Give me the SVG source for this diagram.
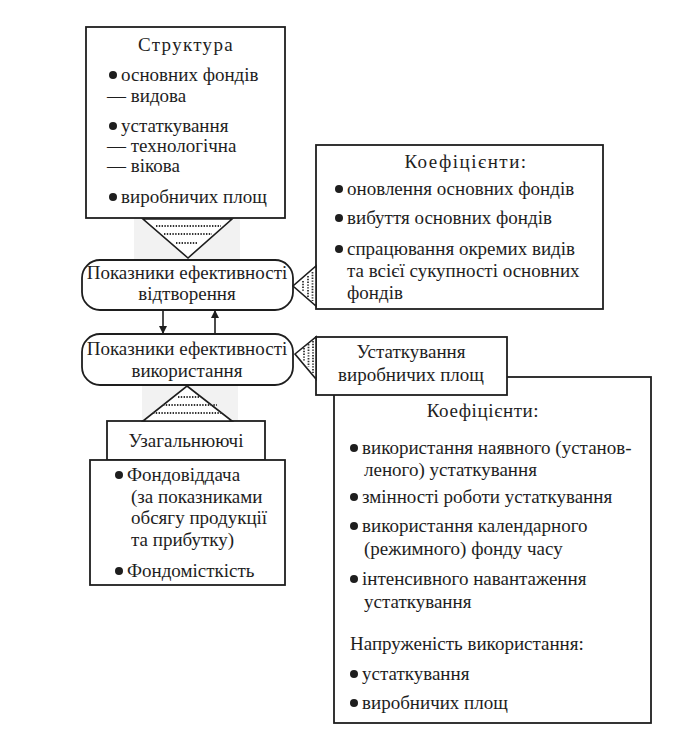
<svg xmlns="http://www.w3.org/2000/svg" width="674" height="735" viewBox="0 0 674 735">
<defs>
<style>
.box{fill:#fff;stroke:#1e1e1e;stroke-width:1.8}
.tri{fill:#fff;stroke:#1e1e1e;stroke-width:1.6;stroke-linejoin:miter}
.dot{stroke:#333;stroke-width:1.8;stroke-dasharray:1.4 1.4;fill:none}
.t{font-family:"Liberation Serif","DejaVu Serif",serif;font-size:19px;fill:#1e1e1e}
.m{text-anchor:middle}
.b{fill:#1e1e1e}
.con{stroke:#1e1e1e;stroke-width:1.6;fill:none}
.smudge{fill:#ececec}
</style>
<marker id="ah" markerWidth="8" markerHeight="10" refX="7" refY="5" orient="auto" markerUnits="userSpaceOnUse">
<path d="M0,1 L8,5 L0,9 Z" fill="#1e1e1e"/>
</marker>
</defs>
<rect width="674" height="735" fill="#fff"/>
<rect class="smudge" x="134" y="219" width="106" height="40" opacity="0.7"/>
<rect class="smudge" x="142" y="386" width="96" height="34" opacity="0.7"/>

<g id="structure">
<rect class="box" x="86" y="27" width="199" height="191"/>
<text class="t m" x="186" y="51" letter-spacing="1.3">Структура</text>
<circle class="b" cx="113" cy="75" r="4"/>
<text class="t" x="121" y="81">основних фондів</text>
<text class="t" x="107" y="102">— видова</text>
<circle class="b" cx="113" cy="126" r="4"/>
<text class="t" x="121" y="132">устаткування</text>
<text class="t" x="107" y="152">— технологічна</text>
<text class="t" x="107" y="172">— вікова</text>
<circle class="b" cx="113" cy="197" r="4"/>
<text class="t" x="121" y="203">виробничих площ</text>
</g>

<g id="coef-top">
<rect class="box" x="316" y="145" width="287" height="164"/>
<text class="t m" x="466" y="168" letter-spacing="1.5">Коефіцієнти:</text>
<circle class="b" cx="339" cy="189" r="4"/>
<text class="t" x="347" y="195">оновлення основних фондів</text>
<circle class="b" cx="339" cy="218" r="4"/>
<text class="t" x="347" y="224">вибуття основних фондів</text>
<circle class="b" cx="339" cy="249" r="4"/>
<text class="t" x="347" y="255">спрацювання окремих видів</text>
<text class="t" x="347" y="277">та всієї сукупності основних</text>
<text class="t" x="347" y="299">фондів</text>
</g>

<g id="reproduction">
<rect class="box" x="82" y="260" width="211" height="50" rx="18"/>
<text class="t m" x="187" y="279">Показники ефективності</text>
<text class="t m" x="187" y="300">відтворення</text>
</g>

<g id="usage">
<rect class="box" x="82" y="334" width="211" height="51" rx="18"/>
<text class="t m" x="187" y="355">Показники ефективності</text>
<text class="t m" x="187" y="377">використання</text>
</g>

<g id="coef-bottom">
<rect class="box" x="334" y="377" width="317" height="346"/>
<text class="t m" x="483" y="417" letter-spacing="0.6">Коефіцієнти:</text>
<circle class="b" cx="354" cy="448" r="4"/>
<text class="t" x="362" y="454">використання наявного (установ-</text>
<text class="t" x="364" y="476">леного) устаткування</text>
<circle class="b" cx="354" cy="497" r="4"/>
<text class="t" x="362" y="503">змінності роботи устаткування</text>
<circle class="b" cx="354" cy="526" r="4"/>
<text class="t" x="362" y="532">використання календарного</text>
<text class="t" x="364" y="555">(режимного) фонду часу</text>
<circle class="b" cx="354" cy="579" r="4"/>
<text class="t" x="362" y="585">інтенсивного навантаження</text>
<text class="t" x="364" y="608">устаткування</text>
<text class="t" x="350" y="650">Напруженість використання:</text>
<circle class="b" cx="354" cy="674" r="4"/>
<text class="t" x="362" y="680">устаткування</text>
<circle class="b" cx="354" cy="703" r="4"/>
<text class="t" x="362" y="709">виробничих площ</text>
</g>

<g id="equipment">
<rect class="box" x="316" y="337" width="191" height="58"/>
<text class="t m" x="411" y="358">Устаткування</text>
<text class="t m" x="411" y="381">виробничих площ</text>
</g>

<g id="general">
<rect class="box" x="107" y="421" width="158" height="39"/>
<text class="t m" x="186" y="447">Узагальнюючі</text>
</g>

<g id="general-list">
<rect class="box" x="90" y="460" width="195" height="125"/>
<circle class="b" cx="119" cy="475" r="4"/>
<text class="t" x="127" y="481">Фондовіддача</text>
<text class="t" x="131" y="503">(за показниками</text>
<text class="t" x="131" y="524">обсягу продукції</text>
<text class="t" x="131" y="546">та прибутку)</text>
<circle class="b" cx="119" cy="571" r="4"/>
<text class="t" x="127" y="577">Фондомісткість</text>
</g>

<g id="connectors">
<polygon class="tri" points="143,219 232,219 188,258"/>
<line class="dot" x1="156" y1="226" x2="221" y2="226"/>
<line class="dot" x1="164" y1="234" x2="212" y2="234"/>
<line class="dot" x1="176" y1="243" x2="197" y2="243"/>

<polygon class="tri" points="187,386 232,421 143,421"/>
<line class="dot" x1="178" y1="397" x2="199" y2="397"/>
<line class="dot" x1="163" y1="405" x2="217" y2="405"/>
<line class="dot" x1="153" y1="413" x2="223" y2="413"/>

<polygon class="tri" points="316,266 316,306 293,286"/>
<line class="dot" x1="303" y1="281" x2="303" y2="292"/>
<line class="dot" x1="308" y1="276" x2="308" y2="297"/>
<line class="dot" x1="312.5" y1="272" x2="312.5" y2="301"/>

<polygon class="tri" points="316,337 316,379 295,354"/>
<line class="dot" x1="304" y1="348" x2="304" y2="362"/>
<line class="dot" x1="308.5" y1="344" x2="308.5" y2="367"/>
<line class="dot" x1="313" y1="341" x2="313" y2="373"/>

<line class="con" x1="163" y1="310" x2="163" y2="333" marker-end="url(#ah)"/>
<line class="con" x1="215" y1="334" x2="215" y2="311" marker-end="url(#ah)"/>
</g>
</svg>
